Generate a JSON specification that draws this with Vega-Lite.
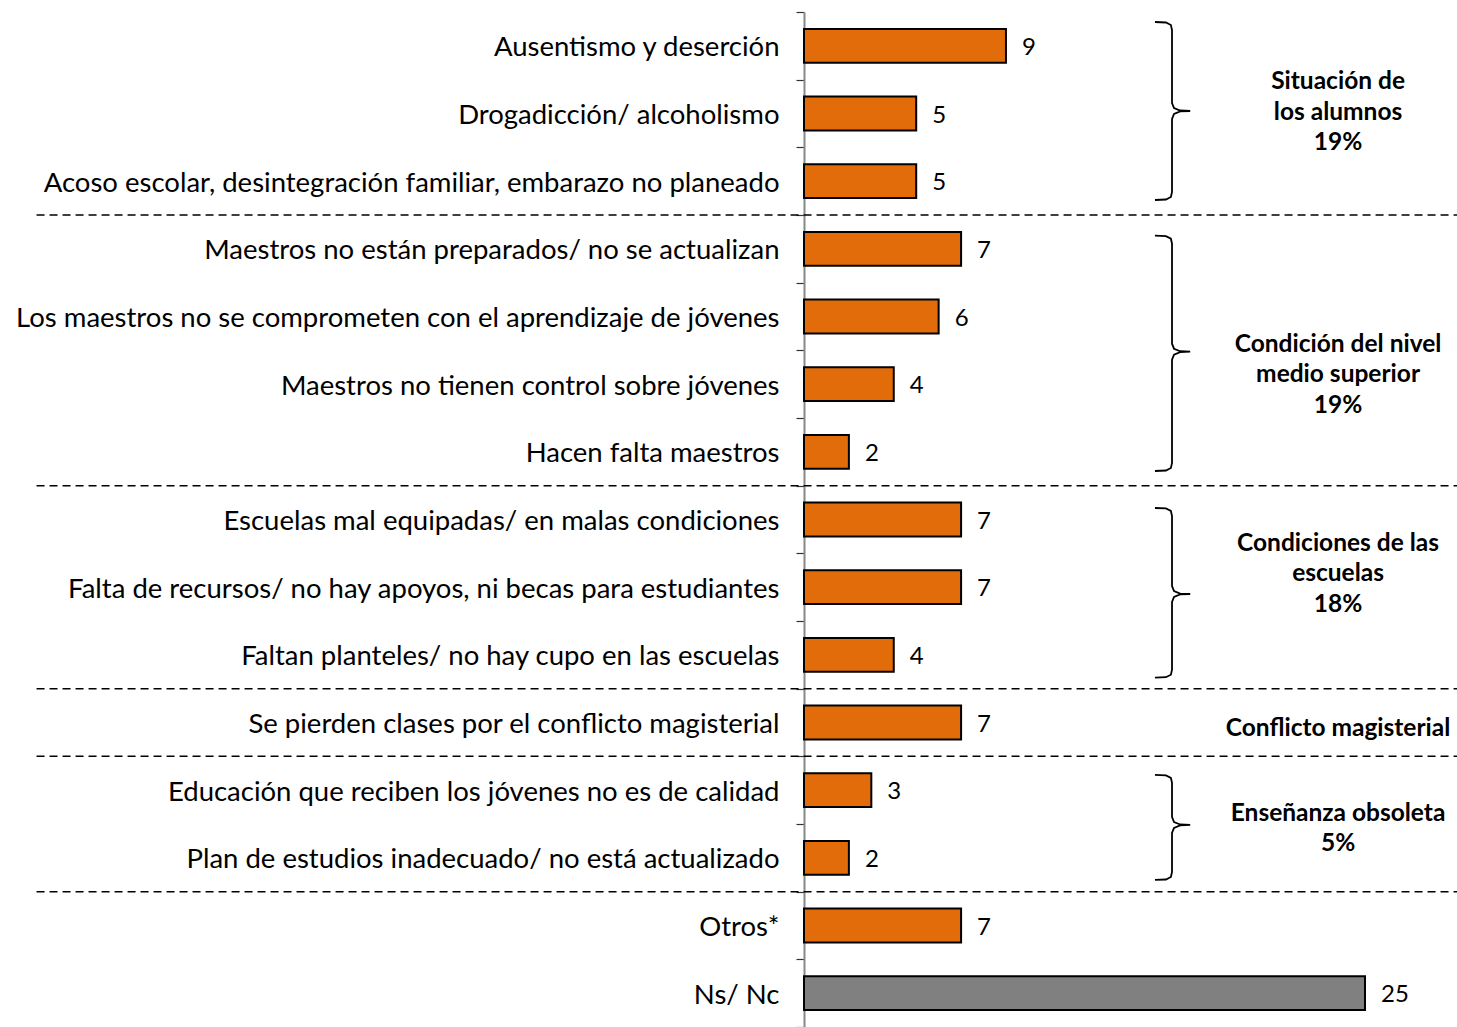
{
  "$schema": "https://vega.github.io/schema/vega-lite/v6.json",
  "width": 653,
  "height": 1015,
  "autosize": {"type": "none"},
  "padding": {"left": 804, "top": 12, "right": 0, "bottom": 0},
  "background": "white",
  "config": {"view": {"stroke": null}, "font": "Lato"},
  "datasets": {
    "bars": [
      {"categoria": "Ausentismo y deserción", "valor": 9, "tipo": "respuesta"},
      {"categoria": "Drogadicción/ alcoholismo", "valor": 5, "tipo": "respuesta"},
      {"categoria": "Acoso escolar, desintegración familiar, embarazo no planeado", "valor": 5, "tipo": "respuesta"},
      {"categoria": "Maestros no están preparados/ no se actualizan", "valor": 7, "tipo": "respuesta"},
      {"categoria": "Los maestros no se comprometen con el aprendizaje de jóvenes", "valor": 6, "tipo": "respuesta"},
      {"categoria": "Maestros no tienen control sobre jóvenes", "valor": 4, "tipo": "respuesta"},
      {"categoria": "Hacen falta maestros", "valor": 2, "tipo": "respuesta"},
      {"categoria": "Escuelas mal equipadas/ en malas condiciones", "valor": 7, "tipo": "respuesta"},
      {"categoria": "Falta de recursos/ no hay apoyos, ni becas para estudiantes", "valor": 7, "tipo": "respuesta"},
      {"categoria": "Faltan planteles/ no hay cupo en las escuelas", "valor": 4, "tipo": "respuesta"},
      {"categoria": "Se pierden clases por el conflicto magisterial", "valor": 7, "tipo": "respuesta"},
      {"categoria": "Educación que reciben los jóvenes no es de calidad", "valor": 3, "tipo": "respuesta"},
      {"categoria": "Plan de estudios inadecuado/ no está actualizado", "valor": 2, "tipo": "respuesta"},
      {"categoria": "Otros*", "valor": 7, "tipo": "respuesta"},
      {"categoria": "Ns/ Nc", "valor": 25, "tipo": "sin respuesta"}
    ],
    "separadores": [
      {"fila": 3, "x1": -34.2, "x2": 29.1},
      {"fila": 7, "x1": -34.2, "x2": 29.1},
      {"fila": 10, "x1": -34.2, "x2": 29.1},
      {"fila": 11, "x1": -34.2, "x2": 29.1},
      {"fila": 13, "x1": -34.2, "x2": 29.1}
    ],
    "llaves": [
      {"llave": 1, "i": 0, "x": 15.64, "fila": 0.148},
      {"llave": 1, "i": 1, "x": 16.13, "fila": 0.155},
      {"llave": 1, "i": 2, "x": 16.35, "fila": 0.192},
      {"llave": 1, "i": 3, "x": 16.40, "fila": 0.266},
      {"llave": 1, "i": 4, "x": 16.40, "fila": 1.345},
      {"llave": 1, "i": 5, "x": 16.49, "fila": 1.419},
      {"llave": 1, "i": 6, "x": 16.76, "fila": 1.456},
      {"llave": 1, "i": 7, "x": 17.21, "fila": 1.463},
      {"llave": 1, "i": 8, "x": 16.76, "fila": 1.470},
      {"llave": 1, "i": 9, "x": 16.49, "fila": 1.507},
      {"llave": 1, "i": 10, "x": 16.40, "fila": 1.581},
      {"llave": 1, "i": 11, "x": 16.40, "fila": 2.660},
      {"llave": 1, "i": 12, "x": 16.35, "fila": 2.734},
      {"llave": 1, "i": 13, "x": 16.13, "fila": 2.771},
      {"llave": 1, "i": 14, "x": 15.64, "fila": 2.778},
      {"llave": 2, "i": 0, "x": 15.64, "fila": 3.306},
      {"llave": 2, "i": 1, "x": 16.13, "fila": 3.313},
      {"llave": 2, "i": 2, "x": 16.35, "fila": 3.350},
      {"llave": 2, "i": 3, "x": 16.40, "fila": 3.424},
      {"llave": 2, "i": 4, "x": 16.40, "fila": 4.902},
      {"llave": 2, "i": 5, "x": 16.49, "fila": 4.976},
      {"llave": 2, "i": 6, "x": 16.76, "fila": 5.013},
      {"llave": 2, "i": 7, "x": 17.21, "fila": 5.020},
      {"llave": 2, "i": 8, "x": 16.76, "fila": 5.027},
      {"llave": 2, "i": 9, "x": 16.49, "fila": 5.064},
      {"llave": 2, "i": 10, "x": 16.40, "fila": 5.138},
      {"llave": 2, "i": 11, "x": 16.40, "fila": 6.665},
      {"llave": 2, "i": 12, "x": 16.35, "fila": 6.739},
      {"llave": 2, "i": 13, "x": 16.13, "fila": 6.776},
      {"llave": 2, "i": 14, "x": 15.64, "fila": 6.783},
      {"llave": 3, "i": 0, "x": 15.64, "fila": 7.330},
      {"llave": 3, "i": 1, "x": 16.13, "fila": 7.337},
      {"llave": 3, "i": 2, "x": 16.35, "fila": 7.374},
      {"llave": 3, "i": 3, "x": 16.40, "fila": 7.448},
      {"llave": 3, "i": 4, "x": 16.40, "fila": 8.483},
      {"llave": 3, "i": 5, "x": 16.49, "fila": 8.557},
      {"llave": 3, "i": 6, "x": 16.76, "fila": 8.594},
      {"llave": 3, "i": 7, "x": 17.21, "fila": 8.601},
      {"llave": 3, "i": 8, "x": 16.76, "fila": 8.608},
      {"llave": 3, "i": 9, "x": 16.49, "fila": 8.645},
      {"llave": 3, "i": 10, "x": 16.40, "fila": 8.719},
      {"llave": 3, "i": 11, "x": 16.40, "fila": 9.720},
      {"llave": 3, "i": 12, "x": 16.35, "fila": 9.794},
      {"llave": 3, "i": 13, "x": 16.13, "fila": 9.831},
      {"llave": 3, "i": 14, "x": 15.64, "fila": 9.838},
      {"llave": 4, "i": 0, "x": 15.64, "fila": 11.275},
      {"llave": 4, "i": 1, "x": 16.13, "fila": 11.282},
      {"llave": 4, "i": 2, "x": 16.35, "fila": 11.319},
      {"llave": 4, "i": 3, "x": 16.40, "fila": 11.393},
      {"llave": 4, "i": 4, "x": 16.40, "fila": 11.896},
      {"llave": 4, "i": 5, "x": 16.49, "fila": 11.970},
      {"llave": 4, "i": 6, "x": 16.76, "fila": 12.007},
      {"llave": 4, "i": 7, "x": 17.21, "fila": 12.014},
      {"llave": 4, "i": 8, "x": 16.76, "fila": 12.021},
      {"llave": 4, "i": 9, "x": 16.49, "fila": 12.058},
      {"llave": 4, "i": 10, "x": 16.40, "fila": 12.132},
      {"llave": 4, "i": 11, "x": 16.40, "fila": 12.709},
      {"llave": 4, "i": 12, "x": 16.35, "fila": 12.783},
      {"llave": 4, "i": 13, "x": 16.13, "fila": 12.820},
      {"llave": 4, "i": 14, "x": 15.64, "fila": 12.827}
    ],
    "grupos": [
      {"texto": "Situación de\nlos alumnos\n19%", "x": 23.8, "fila": 1.005},
      {"texto": "Condición del nivel\nmedio superior\n19%", "x": 23.8, "fila": 4.89},
      {"texto": "Condiciones de las\nescuelas\n18%", "x": 23.8, "fila": 7.83},
      {"texto": "Conflicto magisterial", "x": 23.8, "fila": 10.57},
      {"texto": "Enseñanza obsoleta\n5%", "x": 23.8, "fila": 11.82}
    ]
  },
  "layer": [
    {
      "data": {"name": "bars"},
      "encoding": {
        "y": {
          "field": "categoria",
          "type": "nominal",
          "sort": null,
          "scale": {"paddingInner": 0, "paddingOuter": 0},
          "axis": {
            "title": null,
            "labelFont": "Lato",
            "labelFontSize": 27.5,
            "labelColor": "black",
            "labelPadding": 17,
            "labelOffset": 2,
            "labelLimit": 1000,
            "tickBand": "extent",
            "tickSize": 8,
            "tickColor": "#333333",
            "tickWidth": 1.2,
            "domainColor": "#888888",
            "domainWidth": 2,
            "grid": false
          }
        },
        "x": {
          "field": "valor",
          "type": "quantitative",
          "scale": {"domain": [0, 29.1], "nice": false, "zero": true},
          "axis": null
        }
      },
      "layer": [
        {
          "mark": {"type": "bar", "stroke": "black", "strokeWidth": 2, "height": {"band": 0.5}},
          "encoding": {
            "color": {
              "field": "tipo",
              "type": "nominal",
              "scale": {"domain": ["respuesta", "sin respuesta"], "range": ["#E36C0A", "#808080"]},
              "legend": null
            }
          }
        },
        {
          "mark": {"type": "text", "align": "left", "baseline": "middle", "dx": 16, "dy": 2, "fontSize": 24, "font": "Lato", "color": "black"},
          "encoding": {"text": {"field": "valor", "type": "quantitative"}}
        }
      ]
    },
    {
      "data": {"name": "separadores"},
      "mark": {"type": "rule", "strokeDash": [8, 5], "strokeWidth": 1.5, "color": "black"},
      "encoding": {
        "y": {"field": "fila", "type": "quantitative", "scale": {"domain": [0, 15], "reverse": true, "nice": false, "zero": false}, "axis": null},
        "x": {"field": "x1", "type": "quantitative", "scale": {"domain": [0, 29.1], "nice": false, "zero": true}, "axis": null},
        "x2": {"field": "x2"}
      }
    },
    {
      "data": {"name": "llaves"},
      "mark": {"type": "line", "color": "black", "strokeWidth": 1.8},
      "encoding": {
        "y": {"field": "fila", "type": "quantitative", "scale": {"domain": [0, 15], "reverse": true, "nice": false, "zero": false}, "axis": null},
        "x": {"field": "x", "type": "quantitative", "scale": {"domain": [0, 29.1], "nice": false, "zero": true}, "axis": null},
        "detail": {"field": "llave", "type": "nominal"},
        "order": {"field": "i", "type": "quantitative"}
      }
    },
    {
      "data": {"name": "grupos"},
      "mark": {"type": "text", "align": "center", "baseline": "middle", "dy": 2, "lineBreak": "\n", "lineHeight": 30.5, "fontSize": 24.5, "fontWeight": "bold", "font": "Lato", "color": "black"},
      "encoding": {
        "y": {"field": "fila", "type": "quantitative", "scale": {"domain": [0, 15], "reverse": true, "nice": false, "zero": false}, "axis": null},
        "x": {"field": "x", "type": "quantitative", "scale": {"domain": [0, 29.1], "nice": false, "zero": true}, "axis": null},
        "text": {"field": "texto"}
      }
    }
  ],
  "resolve": {"scale": {"y": "independent"}}
}
